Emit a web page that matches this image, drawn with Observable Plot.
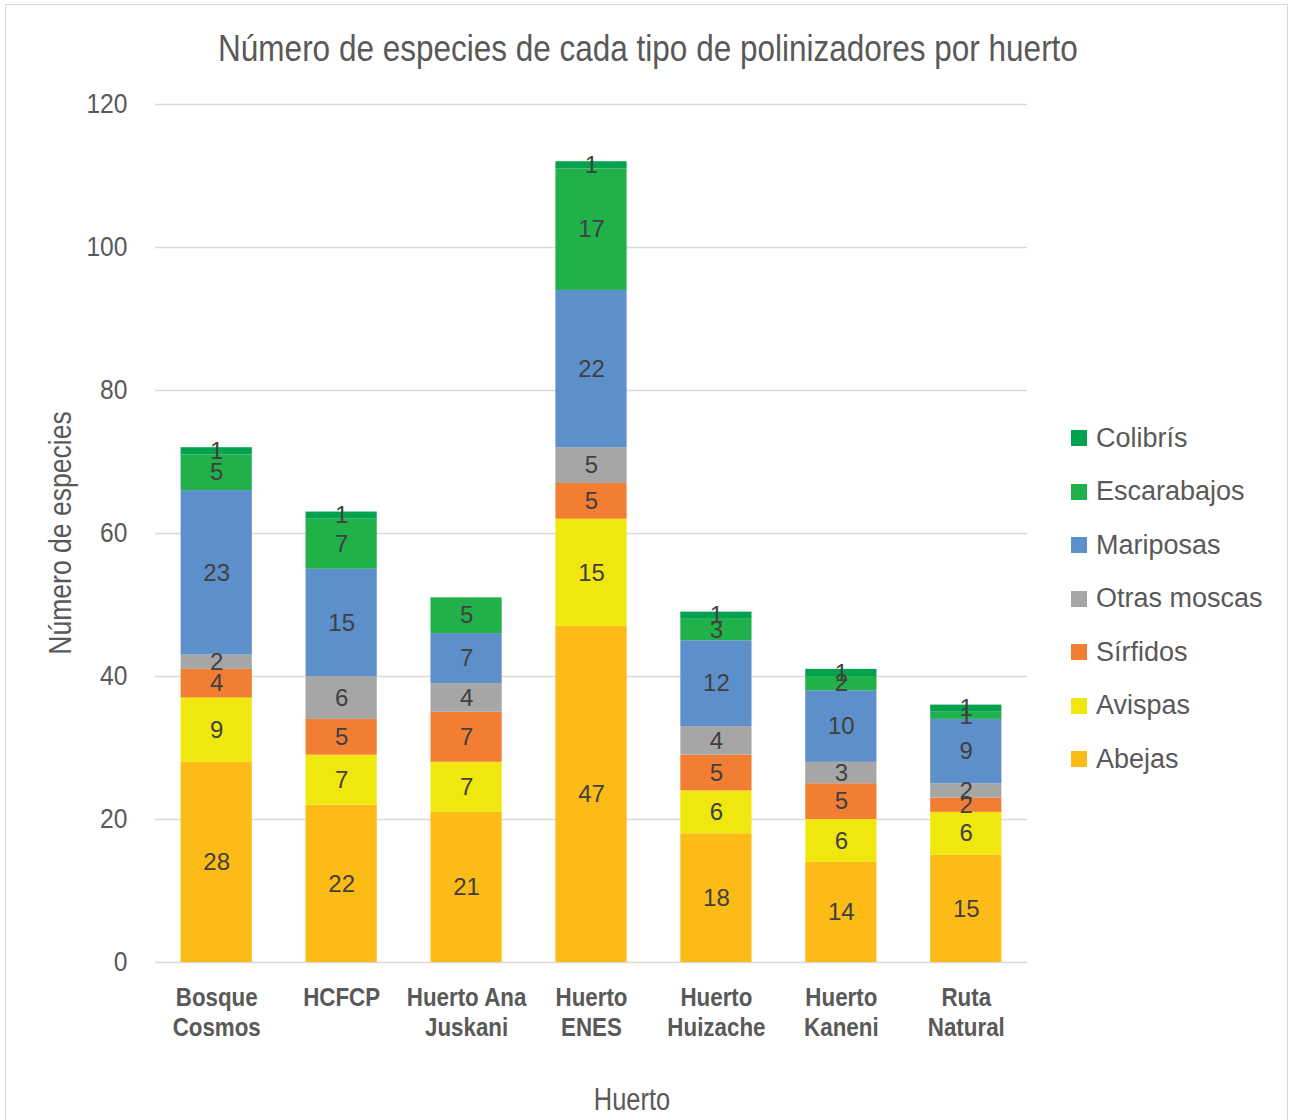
<!DOCTYPE html>
<html>
<head>
<meta charset="utf-8">
<script src="https://cdn.jsdelivr.net/npm/d3@7"></script>
<script src="https://cdn.jsdelivr.net/npm/@observablehq/plot@0.6"></script>
<style>
  body { margin: 0; background: #fff; }
  #chart { position: relative; width: 1290px; height: 1120px; overflow: hidden; font-family: "Liberation Sans", Arial, sans-serif; color: #595959; }
  #frame { position: absolute; left: 5px; top: 4px; width: 1283px; height: 1130px; border: 1.5px solid #d9d9d9; box-sizing: border-box; }
  #title { position: absolute; left: 3px; width: 1290px; top: 31px; text-align: center; font-size: 36px; line-height: 36px; white-space: nowrap; transform: scaleX(0.875); transform-origin: 645px 0; }
  #plot { position: absolute; left: 0; top: 80px; }
  #ytitle { position: absolute; left: 60px; top: 533px; transform: translate(-50%, -50%) rotate(-90deg) scaleX(0.83); font-size: 32px; line-height: 32px; white-space: nowrap; }
  #xtitle { position: absolute; left: 632px; top: 1099px; transform: translate(-50%, -50%) scaleX(0.82); font-size: 31px; line-height: 31px; white-space: nowrap; }
  .leg { position: absolute; left: 1071px; height: 30px; display: flex; align-items: center; transform: translateY(-50%); font-size: 27px; white-space: nowrap; }
  .leg .sw { width: 16px; height: 16px; margin-right: 9px; flex: none; }
</style>
</head>
<body>
<div id="chart">
  <div id="frame"></div>
  <div id="title">Número de especies de cada tipo de polinizadores por huerto</div>
  <div id="plot"></div>
  <div id="ytitle">Número de especies</div>
  <div id="xtitle">Huerto</div>
</div>
<script>
const huertos = ["Bosque\nCosmos", "HCFCP", "Huerto Ana\nJuskani", "Huerto\nENES", "Huerto\nHuizache", "Huerto\nKaneni", "Ruta\nNatural"];
const series = ["Abejas", "Avispas", "Sírfidos", "Otras moscas", "Mariposas", "Escarabajos", "Colibrís"];
const colors = ["#FDBB17", "#F0E70F", "#F27E34", "#A6A6A6", "#5D8FCA", "#21B14B", "#04A24F"];
const abejas      = [28, 22, 21, 47, 18, 14, 15];
const avispas     = [9, 7, 7, 15, 6, 6, 6];
const sirfidos    = [4, 5, 7, 5, 5, 5, 2];
const otrasMoscas = [2, 6, 4, 5, 4, 3, 2];
const mariposas   = [23, 15, 7, 22, 12, 10, 9];
const escarabajos = [5, 7, 5, 17, 3, 2, 1];
const colibris    = [1, 1, 0, 1, 1, 1, 1];
const yTicks = [0, 20, 40, 60, 80, 100, 120];
const legendOrder = ["Colibrís", "Escarabajos", "Mariposas", "Otras moscas", "Sírfidos", "Avispas", "Abejas"];

const valuesBySerie = [abejas, avispas, sirfidos, otrasMoscas, mariposas, escarabajos, colibris];
const data = [];
series.forEach((s, i) => huertos.forEach((h, j) => data.push({huerto: h, serie: s, value: valuesBySerie[i][j]})));

const chart = Plot.plot({
  width: 1290,
  height: 1035,
  marginLeft: 155,
  marginRight: 263,
  marginTop: 24,
  marginBottom: 153,
  style: {color: "#595959", background: "transparent", overflow: "visible"},
  x: {domain: huertos, paddingInner: 0.43, paddingOuter: 0.205, round: false, label: null},
  y: {domain: [0, 120], label: null},
  color: {domain: series, range: colors},
  marks: [
    Plot.ruleY(yTicks, {stroke: "#d9d9d9", strokeWidth: 1.5}),
    Plot.barY(data, Plot.stackY({x: "huerto", y: "value", z: "serie", fill: "serie", order: series})),
    Plot.text(data, Plot.stackY({x: "huerto", y: "value", z: "serie", order: series,
      text: d => d.value > 0 ? String(d.value) : "", fill: "#404040", fontSize: 24,
      fontFamily: "Liberation Sans, Arial, sans-serif"})),
    Plot.axisY({ticks: yTicks, tickSize: 0, tickPadding: 28, fontSize: 28, fontFamily: "Liberation Sans, Arial, sans-serif", label: null}),
    Plot.axisX({tickSize: 0, tickPadding: 22, fontSize: 26, fontWeight: "bold", lineHeight: 1.154,
      fontFamily: "Liberation Sans, Arial, sans-serif", label: null})
  ]
});

// narrow (condensed) look for axis tick labels
function condense(sel, k) {
  d3.select(chart).selectAll(sel).each(function () {
    const t = d3.select(this);
    const tr = t.attr("transform") || "";
    const x = +t.attr("x") || 0;
    t.attr("transform", `${tr} translate(${x},0) scale(${k},1) translate(${-x},0)`);
  });
}
condense('g[aria-label="x-axis tick label"] text', 0.86);
condense('g[aria-label="y-axis tick label"] text', 0.88);

document.getElementById("plot").appendChild(chart);

const chartDiv = document.getElementById("chart");
legendOrder.forEach((s, i) => {
  const el = document.createElement("div");
  el.className = "leg";
  el.style.top = (438 + 53.5 * i) + "px";
  const sw = document.createElement("div");
  sw.className = "sw";
  sw.style.background = colors[series.indexOf(s)];
  const lab = document.createElement("span");
  lab.textContent = s;
  el.appendChild(sw);
  el.appendChild(lab);
  chartDiv.appendChild(el);
});
</script>
</body>
</html>
